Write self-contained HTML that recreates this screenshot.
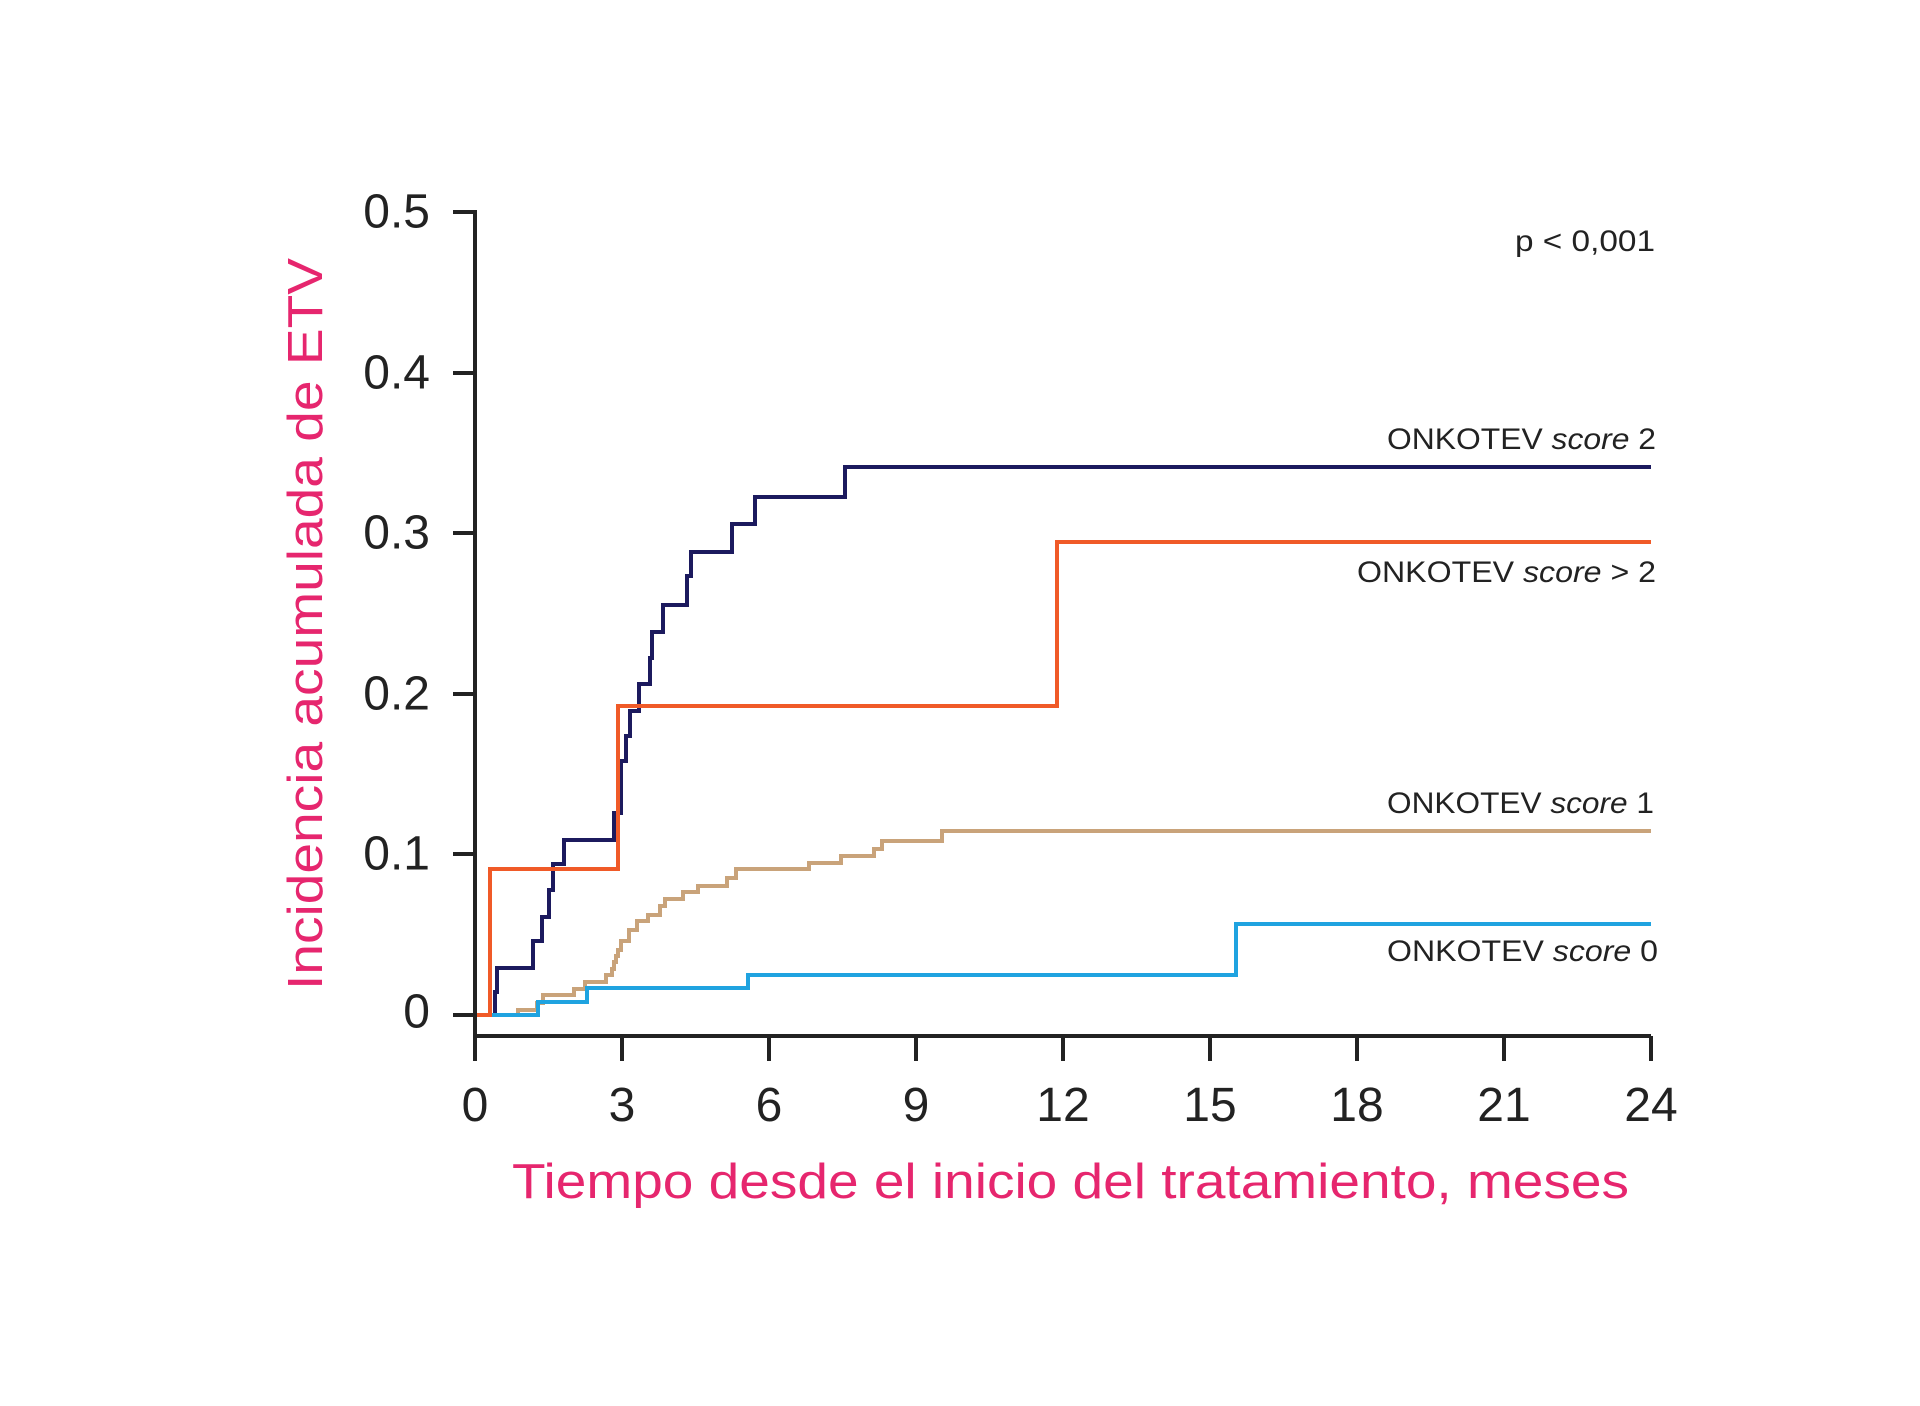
<!DOCTYPE html>
<html><head><meta charset="utf-8"><style>
html,body{margin:0;padding:0;background:#fff;}
svg{display:block;}
text{font-family:"Liberation Sans",sans-serif;}
</style></head><body>
<svg width="1920" height="1406" viewBox="0 0 1920 1406" xmlns="http://www.w3.org/2000/svg">
<rect width="1920" height="1406" fill="#fff"/>
<g fill="none" stroke-width="4">
<path stroke="#1c1a5e" d="M475,1015 H495 V992 H497 V968 H533 V941 H542 V917 H549 V890 H553 V864 H564 V840 H614 V813 H621 V761 H626 V736 H630 V711 H639 V684 H650 V658 H652 V632 H663 V605 H687 V576 H691 V552 H732 V524 H755 V497 H845 V467 H1651"/>
<path stroke="#c9a37a" d="M475,1015 H518 V1010 H537 V1003 H543 V995 H574 V989 H585 V982 H606 V975 H612 V969 H614 V962 H616 V956 H618 V950 H621 V941 H629 V930 H637 V921 H648 V915 H660 V906 H665 V899 H683 V892 H698 V886 H727 V878 H736 V869 H809 V863 H841 V856 H874 V849 H882 V841 H942 V831 H1651"/>
<path stroke="#1fa3e0" d="M475,1015 H538 V1002 H587 V988 H748 V975 H1236 V924 H1651"/>
<path stroke="#f05a28" d="M475,1015 H490 V869 H618 V706 H1057 V542 H1651"/>
</g>
<g stroke="#222" stroke-width="4" fill="none">
<path d="M475,210 V1036 H1651"/>
<path d="M453,212 H475 M453,373 H475 M453,533 H475 M453,694 H475 M453,854 H475 M453,1015 H475"/>
<path d="M475,1036 V1061 M622,1036 V1061 M769,1036 V1061 M916,1036 V1061 M1063,1036 V1061 M1210,1036 V1061 M1357,1036 V1061 M1504,1036 V1061 M1651,1036 V1061"/>
</g>
<g font-size="48" fill="#222" text-anchor="end" dominant-baseline="central">
<text x="430" y="212">0.5</text><text x="430" y="373">0.4</text><text x="430" y="533">0.3</text><text x="430" y="694">0.2</text><text x="430" y="854">0.1</text><text x="430" y="1012">0</text>
</g>
<g font-size="48" fill="#222" text-anchor="middle">
<text x="475" y="1121">0</text><text x="622" y="1121">3</text><text x="769" y="1121">6</text><text x="916" y="1121">9</text><text x="1063" y="1121">12</text><text x="1210" y="1121">15</text><text x="1357" y="1121">18</text><text x="1504" y="1121">21</text><text x="1651" y="1121">24</text>
</g>
<text x="512" y="1198" font-size="49" fill="#e6266e" textLength="1117" lengthAdjust="spacingAndGlyphs">Tiempo desde el inicio del tratamiento, meses</text>
<text transform="translate(322,624) rotate(-90)" font-size="49" fill="#e6266e" text-anchor="middle" textLength="732" lengthAdjust="spacingAndGlyphs">Incidencia acumulada de ETV</text>
<g font-size="30" fill="#222">
<text x="1515" y="251" textLength="140" lengthAdjust="spacingAndGlyphs">p &lt; 0,001</text>
<text x="1387" y="449" textLength="269" lengthAdjust="spacingAndGlyphs">ONKOTEV <tspan font-style="italic">score</tspan> 2</text>
<text x="1357" y="582" textLength="299" lengthAdjust="spacingAndGlyphs">ONKOTEV <tspan font-style="italic">score</tspan> &gt; 2</text>
<text x="1387" y="813" textLength="267" lengthAdjust="spacingAndGlyphs">ONKOTEV <tspan font-style="italic">score</tspan> 1</text>
<text x="1387" y="961" textLength="271" lengthAdjust="spacingAndGlyphs">ONKOTEV <tspan font-style="italic">score</tspan> 0</text>
</g>
</svg>
</body></html>
